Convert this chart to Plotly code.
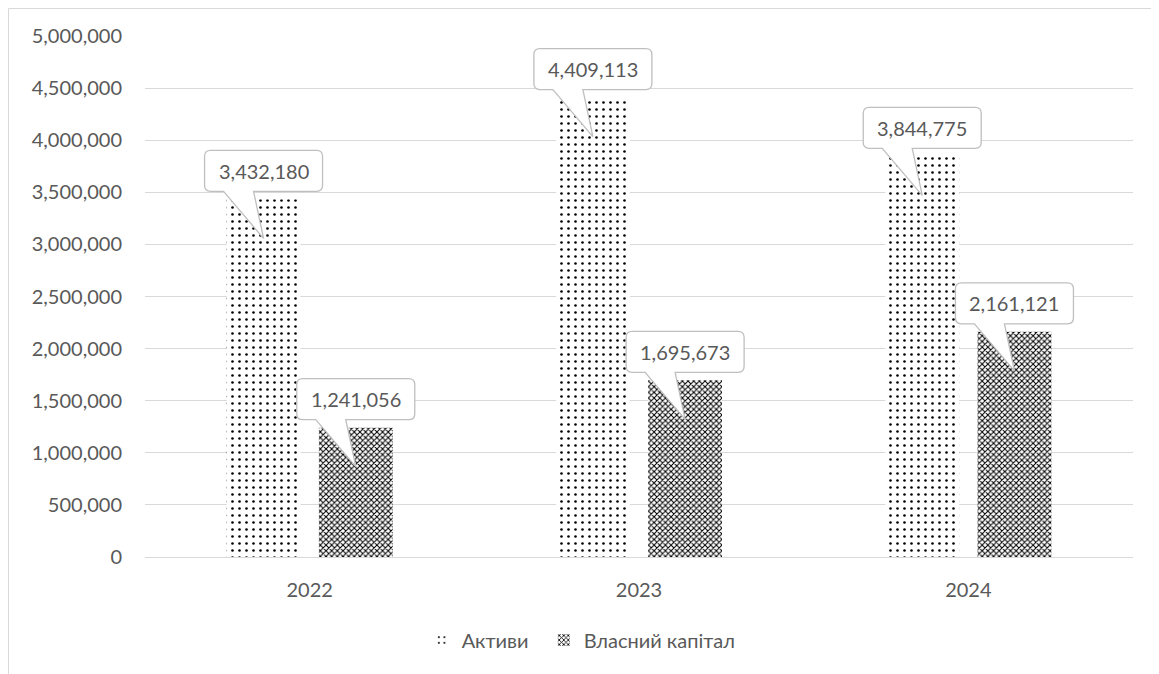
import plotly.graph_objects as go

years = ["2022", "2023", "2024"]
assets = [3432180, 4409113, 3844775]
equity = [1241056, 1695673, 2161121]
series_names = ["Активи", "Власний капітал"]

FONT = "Lato, 'Open Sans', sans-serif"
GREY = "#595959"

fig = go.Figure()
fig.add_trace(go.Bar(
    x=years, y=assets, name=series_names[0] + "\u00a0\u00a0",
    marker=dict(color="white", line=dict(width=0),
                pattern=dict(shape=".", size=7, solidity=0.11,
                             fgcolor="black", bgcolor="white", fillmode="replace")),
))
fig.add_trace(go.Bar(
    x=years, y=equity, name=series_names[1],
    marker=dict(color="white", line=dict(width=0),
                pattern=dict(shape="x", size=4, solidity=0.45,
                             fgcolor="black", bgcolor="white", fillmode="replace")),
))

OFF = 0.14
callout_path = ("M -53,49 L 53,49 Q 59,49 59,43 L 59,14 Q 59,8 53,8 "
                "L -10,8 L 0,-39 L -40,8 L -53,8 Q -59,8 -59,14 "
                "L -59,43 Q -59,49 -53,49 Z")

shapes = []
annotations = []
for si, vals in enumerate([assets, equity]):
    off = -OFF if si == 0 else OFF
    for i, v in enumerate(vals):
        xa = i + off
        shapes.append(dict(
            type="path", xref="x", yref="y",
            xsizemode="pixel", ysizemode="pixel",
            xanchor=xa, yanchor=v, path=callout_path,
            fillcolor="white", line=dict(color="#bfbfbf", width=1.3),
            layer="above",
        ))
        annotations.append(dict(
            x=xa, y=v, xref="x", yref="y", yshift=28.5,
            text=f"{v:,}", showarrow=False,
            font=dict(family=FONT, size=20, color=GREY),
        ))

ML, MT, PW, PH = 137, 28, 988, 521
# outer chart border (at the figure's top-left edge)
shapes.append(dict(
    type="rect", xref="paper", yref="paper",
    x0=(0.5 - ML) / PW, x1=1.5, y0=-1, y1=(MT + PH - 0.5) / PH,
    line=dict(color="#d9d9d9", width=1), fillcolor="rgba(0,0,0,0)", layer="below",
))

fig.update_layout(
    width=1151, height=666,
    margin=dict(l=ML, r=26, t=MT, b=117),
    paper_bgcolor="white", plot_bgcolor="white",
    barmode="group", bargap=0.44, bargroupgap=0.2,
    font=dict(family=FONT, size=20, color=GREY),
    shapes=shapes, annotations=annotations,
    showlegend=True,
    legend=dict(orientation="h", x=0.280, xanchor="left",
                y=(549 - 632) / PH, yanchor="middle",
                font=dict(family=FONT, size=20, color=GREY),
                itemsizing="constant"),
    xaxis=dict(type="category", showgrid=False, showline=True,
               linecolor="#d9d9d9", linewidth=1,
               ticks="", ticklabelstandoff=15,
               tickfont=dict(family=FONT, size=20, color=GREY)),
    yaxis=dict(range=[0, 5000000], dtick=500000, tickformat=",",
               showgrid=True, gridcolor="#d9d9d9", gridwidth=1,
               zeroline=False, showline=False, ticks="",
               ticklabelstandoff=22,
               tickfont=dict(family=FONT, size=20, color=GREY)),
)

fig.write_html("out.html")
